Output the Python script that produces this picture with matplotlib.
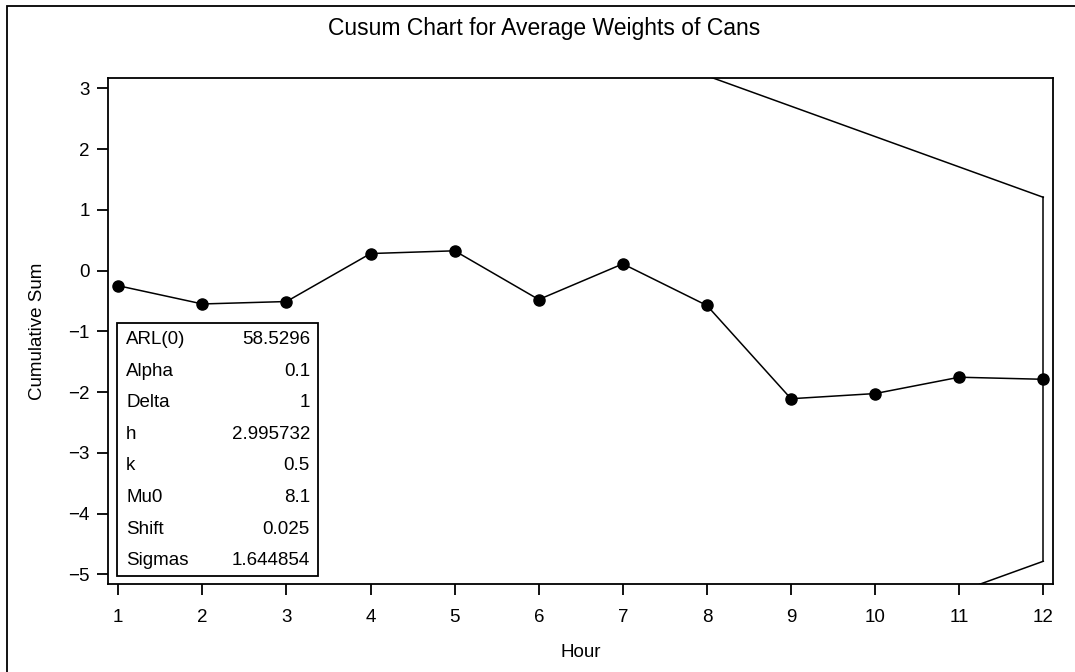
import matplotlib
matplotlib.use("Agg")
import matplotlib.pyplot as plt
from matplotlib.patches import Rectangle
import numpy as np

plt.rcParams['font.family'] = ['Liberation Sans', 'DejaVu Sans']

hours = np.arange(1, 13)
cusum = [-0.25, -0.55, -0.51, 0.28, 0.325, -0.477, 0.11, -0.575, -2.11, -2.025, -1.756, -1.79]

stat_names = ["ARL(0)", "Alpha", "Delta", "h", "k", "Mu0", "Shift", "Sigmas"]
stat_values = ["58.5296", "0.1", "1", "2.995732", "0.5", "8.1", "0.025", "1.644854"]

h = 2.995732
k = 0.5

fig = plt.figure(figsize=(10.75, 6.72), dpi=100)
ax = fig.add_axes([0.1002, 0.1305, 0.8796, 0.7539])

# outer frame
fig.patches.append(Rectangle((7 / 1075, -0.1), 1.2, (672 - 6) / 672 + 0.1,
                             transform=fig.transFigure, fill=False,
                             edgecolor='black', linewidth=1.3))

ax.plot(hours, cusum, color='black', linewidth=1.1, marker='o',
        markersize=8, zorder=3)

# V-mask at the last point
xm = np.array([hours[-1] - 10, hours[-1]])
upper = cusum[-1] + h + k * (hours[-1] - xm)
lower = cusum[-1] - h - k * (hours[-1] - xm)
ax.plot(xm, upper, color='black', linewidth=1.1)
ax.plot(xm, lower, color='black', linewidth=1.1)
ax.plot([hours[-1], hours[-1]], [upper[-1], lower[-1]], color='black', linewidth=1.1)

ax.set_xlim(0.874, 12.119)
ax.set_ylim(-5.165, 3.175)
ax.set_xticks(hours)
ax.set_yticks(np.arange(-5, 4))

for s in ax.spines.values():
    s.set_linewidth(1.3)
ax.tick_params(direction='out', length=8, width=1.3, labelsize=13.5, pad=5)
ax.tick_params(axis='x', pad=10)

ax.set_xlabel("Hour", fontsize=13.5, labelpad=13)
ax.set_ylabel("Cumulative Sum", fontsize=13.5, labelpad=16)
fig.text(0.506, 0.958, "Cusum Chart for Average Weights of Cans",
         ha='center', va='center', fontsize=16.5)

# statistics box
bx0, bx1 = 117 / 1075, 318 / 1075
by0, by1 = (672 - 576) / 672, (672 - 323) / 672
fig.patches.append(Rectangle((bx0, by0), bx1 - bx0, by1 - by0,
                             transform=fig.transFigure, fill=False,
                             edgecolor='black', linewidth=1.3, zorder=5))
row_h = (by1 - by0) / len(stat_names)
for i, (n, v) in enumerate(zip(stat_names, stat_values)):
    yy = by1 - (i + 0.52) * row_h
    fig.text(bx0 + 9 / 1075, yy, n, ha='left', va='center', fontsize=13.5)
    fig.text(bx1 - 8 / 1075, yy, v, ha='right', va='center', fontsize=13.5)

fig.savefig("out.png", dpi=100)
